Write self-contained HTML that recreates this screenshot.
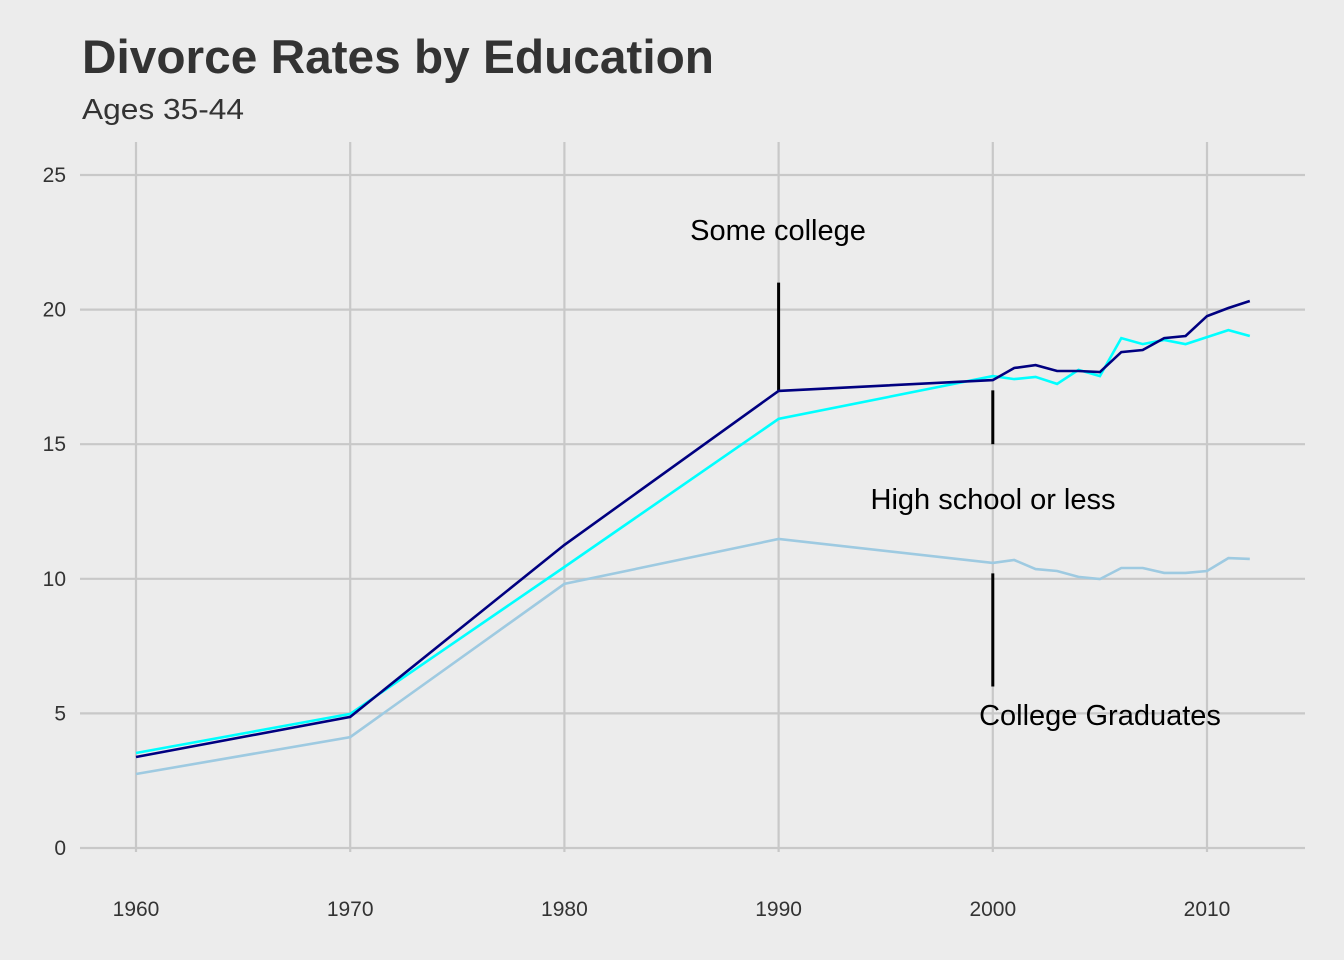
<!DOCTYPE html>
<html><head><meta charset="utf-8"><style>
body{margin:0;background:#ececec}
svg{display:block;font-family:"Liberation Sans",Arial,sans-serif}
</style></head><body>
<svg id="chart" width="1344" height="960" viewBox="0 0 1344 960">
<rect width="1344" height="960" fill="#ececec"/>
<text x="82" y="73" font-size="47" font-weight="bold" fill="#333" textLength="632" lengthAdjust="spacingAndGlyphs">Divorce Rates by Education</text>
<text x="82" y="119" font-size="29" fill="#333" textLength="162" lengthAdjust="spacingAndGlyphs">Ages 35-44</text>
<g id="grid"></g><g id="ann"></g><g id="lines"></g>
</svg>
<script>
const years=[1960,1970,1980,1990,2000,2001,2002,2003,2004,2005,2006,2007,2008,2009,2010,2011,2012];
const highSchool=[3.38,4.87,11.26,16.98,17.38,17.83,17.94,17.72,17.72,17.68,18.42,18.5,18.94,19.02,19.76,20.06,20.32];
const someCollege=[3.53,4.98,10.44,15.94,17.53,17.42,17.5,17.24,17.76,17.53,18.94,18.72,18.87,18.72,18.98,19.24,19.02];
const collegeGrad=[2.75,4.12,9.81,11.48,10.59,10.7,10.36,10.29,10.07,9.99,10.4,10.4,10.22,10.22,10.29,10.77,10.74];
const xTicks=[1960,1970,1980,1990,2000,2010];
const yTicks=[0,5,10,15,20,25];
const NS="http://www.w3.org/2000/svg";
const X=v=>136+(v-1960)*(1207-136)/50;
const Y=v=>848-v*(848-175)/25;
function mk(t,a,p){const e=document.createElementNS(NS,t);for(const k in a)e.setAttribute(k,a[k]);p.appendChild(e);return e;}
const grid=document.getElementById('grid');
yTicks.forEach(t=>{
 const l=mk('line',{x1:80,x2:1305,y1:Y(t),y2:Y(t),stroke:'#c8c8c8','stroke-width':2.2},grid);
 
 
 const tx=mk('text',{x:66,y:Y(t)+7,'font-size':21,fill:'#333','text-anchor':'end'},grid);tx.textContent=t;
 
 
});
xTicks.forEach(t=>{
 const l=mk('line',{x1:X(t),x2:X(t),y1:142,y2:852,stroke:'#c8c8c8','stroke-width':2.2},grid);
 
 
 const tx=mk('text',{x:X(t),y:916,'font-size':21,fill:'#333','text-anchor':'middle'},grid);tx.textContent=t;
 
 
});
const ann=document.getElementById('ann');
const segs=[[1990,17,21],[2000,15,17],[2000,6,10.2]];
segs.forEach(s=>{const l=mk('line',{x1:X(s[0]),x2:X(s[0]),y1:Y(s[1]),y2:Y(s[2]),stroke:'#000','stroke-width':3},ann);
 
 });
const labels=[[778,240,'Some college','some-college-label'],[993,509,'High school or less','high-school-label'],[1100,725,'College Graduates','college-graduates-label']];
labels.forEach(a=>{const t=mk('text',{x:a[0],y:a[1],'font-size':29,fill:'#000','text-anchor':'middle'},ann);t.textContent=a[2];
 
 });
const lines=document.getElementById('lines');
function draw(vals,color,name){
 const d=vals.map((v,i)=>(i?'L':'M')+X(years[i]).toFixed(1)+','+Y(v).toFixed(1)).join('');
 const p=mk('path',{d:d,fill:'none',stroke:color,'stroke-width':2.6},lines);
 
 
}
draw(collegeGrad,'#9ecae1','college-graduates-line');
draw(someCollege,'#00ffff','some-college-line');
draw(highSchool,'#000080','high-school-line');
</script>
</body></html>
